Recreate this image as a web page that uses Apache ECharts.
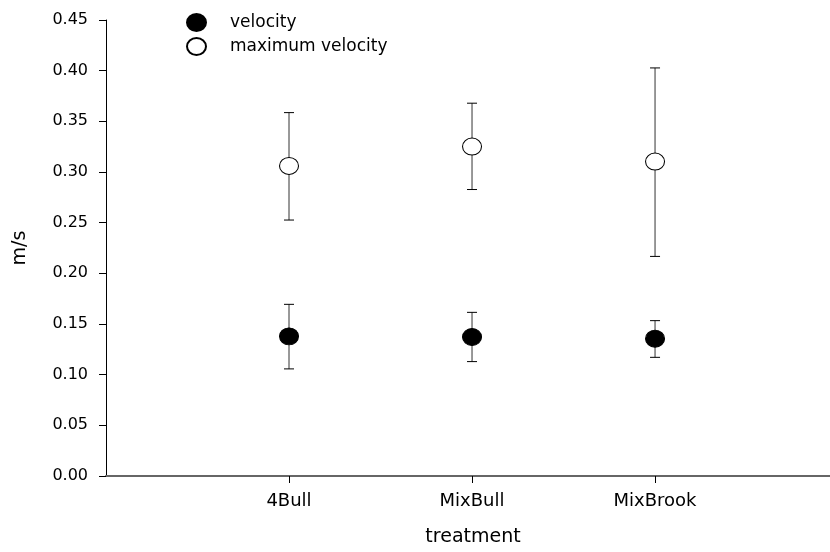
<!DOCTYPE html>
<html>
<head>
<meta charset="utf-8">
<script src="https://cdn.jsdelivr.net/npm/echarts@6/dist/echarts.min.js"></script>
<style>html,body{margin:0;padding:0;background:#fff}#c{width:830px;height:552px}</style>
</head>
<body>
<div id="c"></div>
<script>
const categories = ['4Bull', 'MixBull', 'MixBrook'];
const categoryPos = [1, 2, 3];
const velocity = [0.1378, 0.1372, 0.1355];
const velocityLow = [0.1057, 0.1129, 0.1171];
const velocityHigh = [0.1694, 0.1615, 0.1533];
const maxVelocity = [0.3060, 0.3251, 0.3103];
const maxVelocityLow = [0.2526, 0.2827, 0.2167];
const maxVelocityHigh = [0.3586, 0.3679, 0.4027];

const FONT = 'DejaVu Sans';
const ELLIPSE = 'path://M0,8.5 A9.5,8.5 0 1,0 19,8.5 A9.5,8.5 0 1,0 0,8.5 Z';

function errData(lo, hi) {
  return categoryPos.map((x, i) => [x, lo[i], hi[i]]);
}
function renderErr(params, api) {
  const x = api.value(0), lo = api.value(1), hi = api.value(2);
  const t = api.coord([x, hi]);
  const b = api.coord([x, lo]);
  const hw = 5;
  return {
    type: 'group',
    children: [
      {type: 'line', shape: {x1: t[0], y1: t[1], x2: b[0], y2: b[1]}, style: {stroke: '#333', lineWidth: 1}},
      {type: 'line', shape: {x1: t[0] - hw, y1: t[1], x2: t[0] + hw, y2: t[1]}, style: {stroke: '#000', lineWidth: 1}},
      {type: 'line', shape: {x1: b[0] - hw, y1: b[1], x2: b[0] + hw, y2: b[1]}, style: {stroke: '#000', lineWidth: 1}}
    ]
  };
}

const chart = echarts.init(document.getElementById('c'), null, {renderer: 'canvas'});
chart.setOption({
  animation: false,
  backgroundColor: '#fff',
  textStyle: {fontFamily: FONT, color: '#000'},
  legend: {
    orient: 'vertical',
    left: 181,
    top: 8,
    itemWidth: 19,
    itemHeight: 17,
    itemGap: 5,
    data: [
      {name: 'velocity', icon: ELLIPSE},
      {name: 'maximum velocity', icon: ELLIPSE}
    ],
    textStyle: {fontFamily: FONT, fontSize: 17, color: '#000', padding: [0, 0, 0, 19]}
  },
  grid: {left: 106, top: 20, right: 0, height: 456.5, containLabel: false},
  xAxis: {
    type: 'value',
    min: 0, max: 3.956,
    name: 'treatment',
    nameLocation: 'middle',
    nameGap: 52,
    nameTextStyle: {fontFamily: FONT, fontSize: 19, color: '#000', padding: [0, 0, 0, 10]},
    axisLine: {show: true, onZero: false, lineStyle: {color: '#666', width: 2}},
    axisTick: {show: true, length: 7, customValues: categoryPos, lineStyle: {color: '#000', width: 1}},
    axisLabel: {
      customValues: categoryPos,
      margin: 16,
      fontFamily: FONT, fontSize: 18, color: '#000',
      formatter: v => categories[categoryPos.indexOf(v)] || ''
    },
    splitLine: {show: false}
  },
  yAxis: {
    type: 'value',
    min: 0, max: 0.45, interval: 0.05,
    name: 'm/s',
    nameLocation: 'middle',
    nameGap: 76,
    nameTextStyle: {fontFamily: FONT, fontSize: 19, color: '#000'},
    axisLine: {show: true, lineStyle: {color: '#000', width: 1}},
    axisTick: {show: true, length: 7, lineStyle: {color: '#000', width: 1}},
    axisLabel: {
      margin: 18,
      fontFamily: FONT, fontSize: 16, color: '#000',
      formatter: v => v.toFixed(2)
    },
    splitLine: {show: false}
  },
  series: [
    {name: 'velocity err', type: 'custom', renderItem: renderErr, data: errData(velocityLow, velocityHigh), silent: true, z: 1},
    {name: 'maximum velocity err', type: 'custom', renderItem: renderErr, data: errData(maxVelocityLow, maxVelocityHigh), silent: true, z: 1},
    {
      name: 'velocity', type: 'scatter', symbol: 'circle', symbolSize: [19, 17], z: 3,
      itemStyle: {color: '#000', borderColor: '#000', borderWidth: 1, opacity: 1},
      data: categoryPos.map((x, i) => [x, velocity[i]])
    },
    {
      name: 'maximum velocity', type: 'scatter', symbol: 'circle', symbolSize: [19, 17], z: 3,
      itemStyle: {color: '#fff', borderColor: '#000', borderWidth: 1, opacity: 1},
      data: categoryPos.map((x, i) => [x, maxVelocity[i]])
    }
  ]
});
</script>
</body>
</html>
